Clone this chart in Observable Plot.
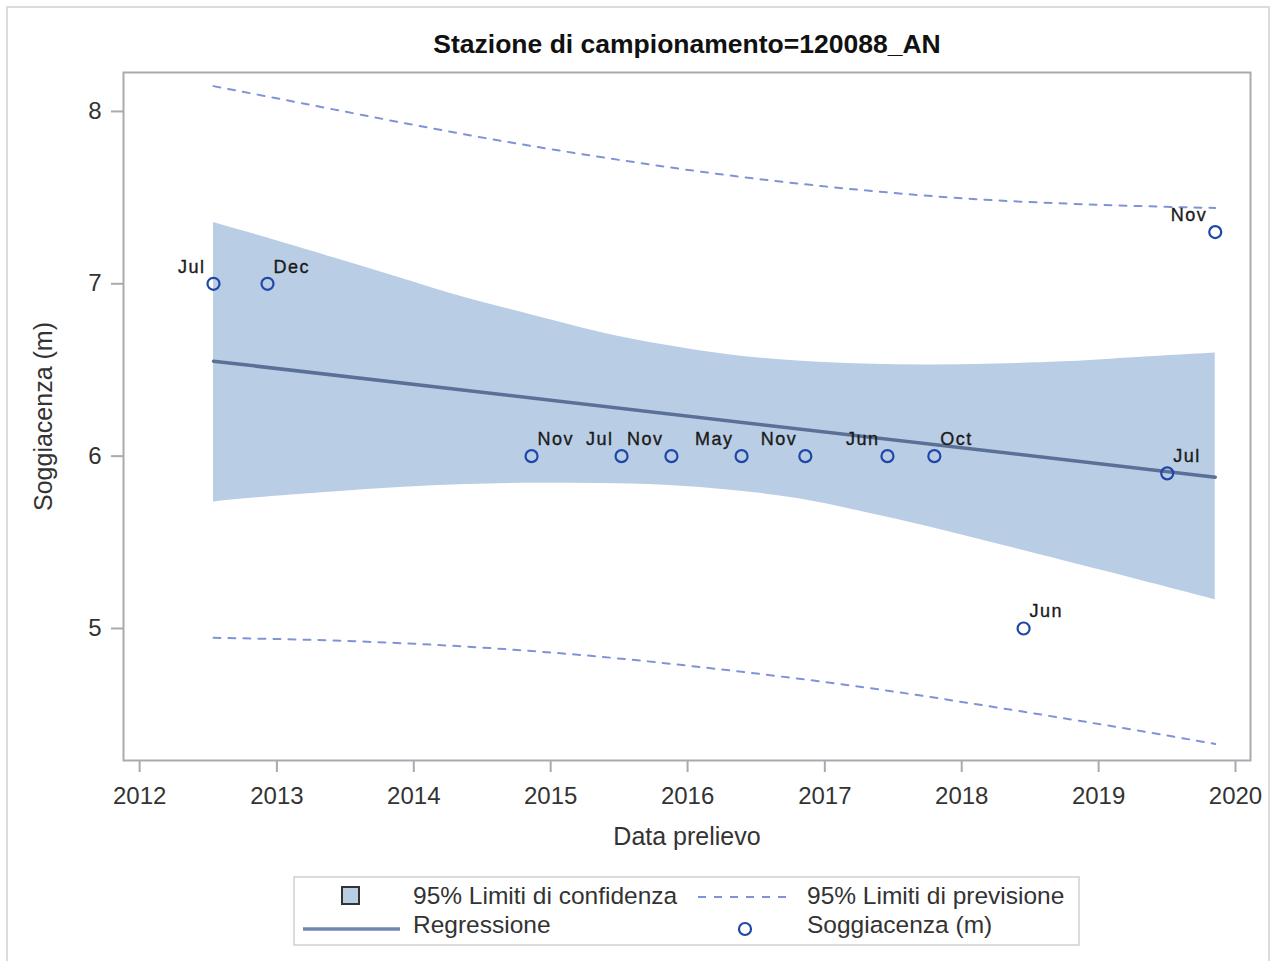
<!DOCTYPE html>
<html><head><meta charset="utf-8">
<script src="https://cdn.jsdelivr.net/npm/d3@7"></script>
<script src="https://cdn.jsdelivr.net/npm/@observablehq/plot@0.6"></script>
<style>
body{margin:0;background:#fff;font-family:"Liberation Sans",Arial,sans-serif;}
#page{position:relative;width:1278px;height:961px;overflow:hidden;}
#border{position:absolute;left:6px;top:6px;width:1264px;height:990px;border:2px solid #dcdcdc;box-sizing:border-box;}
#chart{position:absolute;left:0;top:0;}
#legend{position:absolute;left:0;top:0;pointer-events:none;}
</style></head><body>
<div id="page"><div id="border"></div><div id="chart"></div></div>
<script>
// ---- data ----
const titleText = "Stazione di campionamento=120088_AN";
const sampleDates = ["2012-07-16","2012-12-07","2014-11-11","2015-07-09","2015-11-19","2016-05-24","2016-11-10","2017-06-17","2017-10-20","2018-06-15","2019-07-03","2019-11-08"];
const depthValues = [7.0, 7.0, 6.0, 6.0, 6.0, 6.0, 6.0, 6.0, 6.0, 5.0, 5.9, 7.3];
const monthLabels = ["Jul","Dec","Nov","Jul","Nov","May","Nov","Jun","Oct","Jun","Jul","Nov"];

const ciDates = ["2012-07-16","2012-12-05","2013-06-01","2013-11-24","2014-05-19","2014-11-14","2015-05-09","2015-11-01","2016-04-25","2016-10-20","2017-04-14","2017-10-07","2018-04-04","2018-09-27","2019-03-22","2019-11-08"];
const ciUpper = [7.356, 7.267, 7.151, 7.035, 6.919, 6.818, 6.721, 6.645, 6.587, 6.552, 6.535, 6.529, 6.535, 6.547, 6.570, 6.599];
const ciLower = [5.734, 5.763, 5.792, 5.818, 5.835, 5.843, 5.841, 5.831, 5.802, 5.754, 5.676, 5.589, 5.492, 5.395, 5.298, 5.167];

const piDates = ["2012-07-16","2013-06-01","2014-05-19","2015-05-09","2016-04-25","2017-04-14","2018-04-04","2019-03-22","2019-11-08"];
const piUpper = [8.147, 8.012, 7.866, 7.737, 7.628, 7.543, 7.484, 7.453, 7.440];
const piLower = [4.946, 4.930, 4.895, 4.837, 4.756, 4.659, 4.542, 4.417, 4.330];

const regDates = ["2012-07-16","2019-11-08"];
const regValues = [6.551, 5.878];

const yearTicks = [2012, 2013, 2014, 2015, 2016, 2017, 2018, 2019, 2020];
const yTicks = [5, 6, 7, 8];
const xLabel = "Data prelievo";
const yLabel = "Soggiacenza (m)";
const legendLabels = ["95% Limiti di confidenza", "95% Limiti di previsione", "Regressione", "Soggiacenza (m)"];

// ---- build ----
const parse = d3.utcParse("%Y-%m-%d");
const obs = sampleDates.map((d, i) => ({key: d, date: parse(d), value: depthValues[i], label: monthLabels[i]}));
const ci = ciDates.map((d, i) => ({date: parse(d), lo: ciLower[i], hi: ciUpper[i]}));
const pi = piDates.map((d, i) => ({date: parse(d), lo: piLower[i], hi: piUpper[i]}));
const reg = regDates.map((d, i) => ({date: parse(d), value: regValues[i]}));
const leftLabelled = new Set(["2012-07-16","2015-07-09","2015-11-19","2016-05-24","2016-11-10","2017-06-17","2019-11-08"]);

const font = "Liberation Sans, Arial, sans-serif";
const ciFill = "#b9cde5", regColor = "#5a7096", piColor = "#8093d9", dotColor = "#1f47a8", frameColor = "#a7abb0";
const labelStyle = {fontSize: 18, fill: "#1a1a1a", stroke: "#1a1a1a", strokeWidth: 0.35};

const chart = Plot.plot({
  width: 1278, height: 880,
  marginLeft: 123, marginRight: 28, marginTop: 72, marginBottom: 120,
  style: {background: "transparent", fontFamily: font, overflow: "visible"},
  x: {type: "utc", domain: [parse("2011-11-19"), parse("2020-02-10")]},
  y: {domain: [4.234, 8.226]},
  marks: [
    Plot.areaY(ci, {x: "date", y1: "lo", y2: "hi", fill: ciFill, curve: "natural"}),
    Plot.line(pi, {x: "date", y: "hi", stroke: piColor, strokeWidth: 2, strokeDasharray: "7,8", curve: "natural"}),
    Plot.line(pi, {x: "date", y: "lo", stroke: piColor, strokeWidth: 2, strokeDasharray: "7,8", curve: "natural"}),
    Plot.line(reg, {x: "date", y: "value", stroke: regColor, strokeWidth: 3.5}),
    Plot.dot(obs, {x: "date", y: "value", r: 6, stroke: dotColor, strokeWidth: 2.2, fill: "none"}),
    Plot.text(obs.filter(d => leftLabelled.has(d.key)), {x: "date", y: "value", text: "label", textAnchor: "end", dx: -8, dy: -17, ...labelStyle}),
    Plot.text(obs.filter(d => !leftLabelled.has(d.key)), {x: "date", y: "value", text: "label", textAnchor: "start", dx: 6, dy: -17, ...labelStyle}),
    Plot.frame({stroke: frameColor, strokeWidth: 2}),
    Plot.axisX({ticks: yearTicks.map(y => new Date(Date.UTC(y, 0, 1))), tickFormat: d3.utcFormat("%Y"), tickSize: 12, tickPadding: 14, fontSize: 24, label: null, stroke: frameColor, strokeWidth: 2, fill: "#333"}),
    Plot.axisY({ticks: yTicks, tickFormat: d3.format("d"), tickSize: 12, tickPadding: 10, fontSize: 24, label: null, stroke: frameColor, strokeWidth: 2, fill: "#333"}),
    Plot.text([titleText], {frameAnchor: "top", lineAnchor: "middle", textAnchor: "middle", dy: -28, fontSize: 26.5, fontWeight: "bold", fill: "#111"}),
    Plot.text([yLabel], {frameAnchor: "left", lineAnchor: "middle", textAnchor: "middle", dx: -80, rotate: -90, fontSize: 25, fill: "#333"}),
    Plot.text([xLabel], {frameAnchor: "bottom", lineAnchor: "middle", textAnchor: "middle", dy: 76, fontSize: 25, fill: "#333"})
  ]
});
d3.select(chart).selectAll('g[font-size="18"] text').style("letter-spacing", "1.5px");
document.getElementById("chart").appendChild(chart);

// ---- legend ----
const lg = d3.select("#page").append("svg").attr("id", "legend").attr("width", 1278).attr("height", 961)
  .style("font-family", font);
lg.append("rect").attr("x", 294).attr("y", 877).attr("width", 785).attr("height", 68)
  .attr("fill", "none").attr("stroke", "#d0d0d0").attr("stroke-width", 1.5);
lg.append("rect").attr("x", 342).attr("y", 887).attr("width", 17).attr("height", 17)
  .attr("fill", ciFill).attr("stroke", "#333").attr("stroke-width", 2);
lg.append("line").attr("x1", 698).attr("x2", 790).attr("y1", 897).attr("y2", 897)
  .attr("stroke", piColor).attr("stroke-width", 2).attr("stroke-dasharray", "8,8");
lg.append("line").attr("x1", 303).attr("x2", 400).attr("y1", 929).attr("y2", 929)
  .attr("stroke", "#7088b4").attr("stroke-width", 3.5);
lg.append("circle").attr("cx", 745).attr("cy", 929).attr("r", 6)
  .attr("fill", "none").attr("stroke", dotColor).attr("stroke-width", 2.2);
const lpos = [[413, 904], [807, 904], [413, 933], [807, 933]];
legendLabels.forEach((t, i) => {
  lg.append("text").attr("x", lpos[i][0]).attr("y", lpos[i][1]).attr("font-size", 24.5).attr("fill", "#333").text(t);
});
</script>
</body></html>
